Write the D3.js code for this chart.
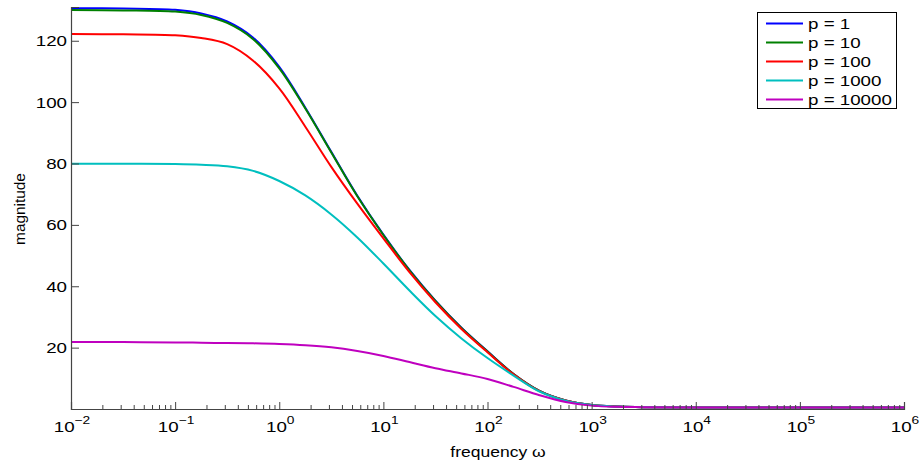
<!DOCTYPE html>
<html>
<head>
<meta charset="utf-8">
<script src="https://cdn.jsdelivr.net/npm/d3@7"></script>
<style>
  body { margin: 0; background: #fff; }
  text { font-family: "Liberation Sans", Arial, sans-serif; fill: #000; }
</style>
</head>
<body>
<script>
//frequency grid (rad/s) the curves were read at
var freq = [0.01, 0.0316, 0.1, 0.178, 0.316, 0.562, 1, 1.78, 3.16, 5.62, 10, 17.8, 31.6, 56.2,
            100, 178, 316, 562, 1000, 1778, 3162, 10000, 100000, 1000000];

//magnitude for each p
var magP1     = [130.6, 130.5, 130.1, 128.9, 126.3, 121.0, 111.5, 98.2, 83.8, 69.5, 56.8, 45.3, 35.3, 26.5, 18.8, 11.4, 5.9, 2.8, 1.3, 0.8, 0.6, 0.5, 0.5, 0.5];
var magP10    = [130.0, 129.9, 129.5, 128.4, 125.8, 120.5, 111.0, 97.9, 83.6, 69.3, 56.7, 45.2, 35.2, 26.4, 18.7, 11.4, 5.9, 2.8, 1.3, 0.8, 0.6, 0.5, 0.5, 0.5];
var magP100   = [122.2, 122.1, 121.8, 120.9, 118.9, 113.5, 104.5, 92.0, 78.9, 66.9, 55.6, 44.6, 34.8, 26.1, 18.5, 11.3, 5.8, 2.8, 1.3, 0.8, 0.6, 0.5, 0.5, 0.5];
var magP1000  = [79.9, 79.9, 79.8, 79.6, 79.1, 77.6, 74.3, 69.6, 63.4, 55.9, 47.4, 38.6, 30.3, 23.0, 16.6, 10.9, 5.7, 2.7, 1.3, 0.8, 0.6, 0.5, 0.5, 0.5];
var magP10000 = [21.8, 21.8, 21.7, 21.6, 21.5, 21.4, 21.2, 20.8, 20.1, 18.9, 17.3, 15.3, 13.3, 11.6, 9.8, 7.2, 4.5, 2.3, 1.1, 0.7, 0.6, 0.5, 0.5, 0.5];

var seriesNames = ["p = 1", "p = 10", "p = 100", "p = 1000", "p = 10000"];
var seriesColors = ["#0000ff", "#008000", "#ff0000", "#00bfbf", "#bf00bf"];
var seriesValues = [magP1, magP10, magP100, magP1000, magP10000];

//tick labels
var xMajor = [1e-2, 1e-1, 1e0, 1e1, 1e2, 1e3, 1e4, 1e5, 1e6];
var xExp = ["\u22122", "\u22121", "0", "1", "2", "3", "4", "5", "6"];
var yTicks = [20, 40, 60, 80, 100, 120];

var W = 921, H = 467;
var stretch = 1.25; //text in the original is rendered wide

var svg = d3.select("body").append("svg")
    .attr("width", W)
    .attr("height", H);

var x = d3.scaleLog().domain([1e-2, 1e6]).range([71, 904]);
var y = d3.scaleLinear().domain([0, 131]).range([409, 7]);

//minor ticks 2..9 of each decade
var xMinor = [];
xMajor.slice(0, -1).forEach(function(d) {
    for (var k = 2; k <= 9; k++) xMinor.push(d * k);
});

//curves
var line = d3.line()
    .x(function(d) { return x(d[0]); })
    .y(function(d) { return y(d[1]); })
    .curve(d3.curveCatmullRom.alpha(0.5));

svg.selectAll(".curve")
    .data(seriesValues)
    .enter()
    .append("path")
    .attr("class", "curve")
    .attr("d", function(vals) {
        return line(vals.map(function(v, i) { return [freq[i], v]; }));
    })
    .style("fill", "none")
    .style("stroke", function(d, i) { return seriesColors[i]; })
    .style("stroke-width", 2);

//x axis: major + minor ticks pointing inward
var axisColor = "#444";
svg.append("g")
    .attr("transform", "translate(0,409)")
    .call(d3.axisBottom(x).tickValues(xMajor).tickSize(-7).tickFormat(""));
svg.append("g")
    .attr("transform", "translate(0,409)")
    .call(d3.axisBottom(x).tickValues(xMinor).tickSize(-4).tickFormat(""))
    .select(".domain").remove();

//y axis
svg.append("g")
    .attr("transform", "translate(71,0)")
    .call(d3.axisLeft(y).tickValues(yTicks).tickSize(-8).tickFormat(""));

svg.selectAll(".domain").style("stroke", axisColor).style("stroke-width", 1.2);
svg.selectAll(".tick line").style("stroke", axisColor).style("stroke-width", 1);

//x tick labels: 10 with superscript exponent, centered on tick
svg.selectAll(".xlab")
    .data(xMajor)
    .enter()
    .append("text")
    .attr("class", "xlab")
    .attr("transform", function(d) { return "translate(" + (x(d) + 1) + ",432) scale(" + stretch + ",1)"; })
    .attr("text-anchor", "middle")
    .style("font-size", "15px")
    .each(function(d, i) {
        var t = d3.select(this);
        t.append("tspan").text("10");
        t.append("tspan")
            .attr("dy", -8)
            .style("font-size", "11px")
            .text(xExp[i]);
    });

//y tick labels
svg.selectAll(".ylab")
    .data(yTicks)
    .enter()
    .append("text")
    .attr("class", "ylab")
    .attr("transform", function(d) { return "translate(67," + (y(d) + 5.5) + ") scale(" + stretch + ",1)"; })
    .attr("text-anchor", "end")
    .style("font-size", "15px")
    .text(function(d) { return d; });

//axis titles
svg.append("text")
    .attr("transform", "translate(498,457) scale(" + stretch + ",1)")
    .attr("text-anchor", "middle")
    .style("font-size", "14px")
    .text("frequency \u03c9");

svg.append("text")
    .attr("transform", "translate(25,209) rotate(-90) scale(1.1,1)")
    .attr("text-anchor", "middle")
    .style("font-size", "14px")
    .text("magnitude");

//legend
var legend = svg.append("g").attr("class", "legend");
legend.append("rect")
    .attr("x", 757.5)
    .attr("y", 12.5)
    .attr("width", 139)
    .attr("height", 96)
    .style("fill", "#fff")
    .style("stroke", "#000")
    .style("stroke-width", 1);

var rows = legend.selectAll(".row")
    .data(seriesNames)
    .enter()
    .append("g")
    .attr("class", "row")
    .attr("transform", function(d, i) { return "translate(0," + (23.5 + i * 19) + ")"; });

rows.append("line")
    .attr("x1", 766)
    .attr("x2", 803)
    .style("stroke", function(d, i) { return seriesColors[i]; })
    .style("stroke-width", 2);

rows.append("text")
    .attr("transform", "translate(808,5) scale(" + stretch + ",1)")
    .style("font-size", "15px")
    .text(function(d) { return d; });
</script>
</body>
</html>
